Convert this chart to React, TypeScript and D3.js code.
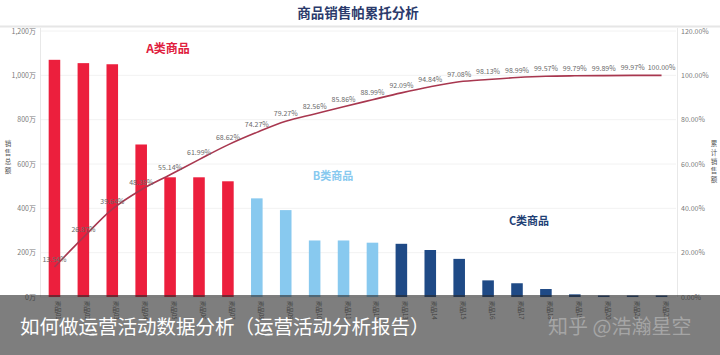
import React from "react";
import * as d3 from "d3";

const categories = [
  "商品01", "商品02", "商品03", "商品04", "商品05", "商品06", "商品07",
  "商品08", "商品09", "商品10", "商品11", "商品12",
  "商品13", "商品14", "商品15", "商品16", "商品17", "商品18",
  "商品19", "商品20", "商品21", "商品22",
];
const sales = [1070, 1055, 1050, 688, 540, 540, 522, 445, 392, 255, 255, 245, 240, 212, 172, 75, 62, 36, 12, 6, 5, 2];
const cumulative = [13.54, 26.87, 39.64, 48.38, 55.14, 61.99, 68.62, 74.27, 79.27, 82.56, 85.86, 88.99, 92.09, 94.84, 97.08, 98.13, 98.99, 99.57, 99.79, 99.89, 99.97, 100.0];
const groups = ["A", "A", "A", "A", "A", "A", "A", "B", "B", "B", "B", "B", "C", "C", "C", "C", "C", "C", "C", "C", "C", "C"];
const leftTicks = [0, 200, 400, 600, 800, 1000, 1200];
const rightTicks = [0, 20, 40, 60, 80, 100, 120];

const W = 720;
const H = 355;
const FONT = "'Noto Sans CJK SC', 'Noto Sans', sans-serif";
const colorOf: Record<string, string> = { A: "#ec1f3d", B: "#88c9ef", C: "#1f4a86" };

export default function App() {
  const x = d3.scaleBand<string>().domain(categories).range([40, 676]).paddingInner(0.6).paddingOuter(0.3);
  const yL = d3.scaleLinear().domain([0, 1200]).range([297, 31]);
  const yR = d3.scaleLinear().domain([0, 120]).range([297, 31]);
  const cx = (c: string) => (x(c) as number) + x.bandwidth() / 2;
  const line = d3
    .line<number>()
    .x((_, i) => cx(categories[i]))
    .y((d) => yR(d))
    .curve(d3.curveMonotoneX);
  const fmtL = (v: number) => d3.format(",")(v) + "万";
  const fmtR = (v: number) => v.toFixed(2) + "%";

  return (
    <svg width={W} height={H} style={{ position: "absolute", left: 0, top: 0, background: "#fff", fontFamily: FONT }}>
      <rect x={0} y={0} width={W} height={H} fill="#fff" />
      <text x={358} y={18} textAnchor="middle" fontSize={13.5} fontWeight={700} fill="#2b3a6b">
        商品销售帕累托分析
      </text>
      <line x1={0} x2={W} y1={26.5} y2={26.5} stroke="#e6e6e6" strokeWidth={2} />

      {/* gridlines */}
      {leftTicks.map((t) => (
        <line key={"g" + t} x1={40} x2={676} y1={yL(t)} y2={yL(t)} stroke="#f2f2f2" strokeWidth={1} />
      ))}
      <line x1={40.5} x2={40.5} y1={28} y2={297} stroke="#e8e8e8" />
      <line x1={677.5} x2={677.5} y1={28} y2={297} stroke="#e8e8e8" />

      {/* left ticks */}
      {leftTicks.map((t) => (
        <text key={"l" + t} x={36} y={yL(t) + 2.5} textAnchor="end" fontSize={7} fill="#7a7a7a">
          {fmtL(t)}
        </text>
      ))}
      {rightTicks.map((t) => (
        <text key={"r" + t} x={681} y={yR(t) + 2.5} textAnchor="start" fontSize={7} fill="#7a7a7a">
          {fmtR(t)}
        </text>
      ))}

      {/* axis titles stacked vertically */}
      {"销售总额".split("").map((ch, i) => (
        <text key={"lt" + i} x={8} y={146 + i * 9} textAnchor="middle" fontSize={6.5} fill="#555">
          {ch}
        </text>
      ))}
      {"累计销售额".split("").map((ch, i) => (
        <text key={"rt" + i} x={714} y={146 + i * 9} textAnchor="middle" fontSize={6.5} fill="#555">
          {ch}
        </text>
      ))}

      {/* bars */}
      {categories.map((c, i) => {
        const top = yL(sales[i]);
        const h = Math.max(297 - top, 1.5);
        return (
          <rect key={"b" + c} x={x(c)} y={297 - h} width={x.bandwidth()} height={h} fill={colorOf[groups[i]]} />
        );
      })}

      {/* category labels (rotated) */}
      {categories.map((c) => (
        <text
          key={"c" + c}
          transform={`translate(${cx(c) + 2},${301}) rotate(90)`}
          fontSize={6}
          fill="#666"
        >
          {c}
        </text>
      ))}

      {/* group annotations */}
      <text x={168} y={53} textAnchor="middle" fontSize={12} fontWeight={700} fill="#e0203e">
        A类商品
      </text>
      <text x={333} y={180} textAnchor="middle" fontSize={11} fontWeight={700} fill="#88c9ef">
        B类商品
      </text>
      <text x={529} y={225} textAnchor="middle" fontSize={11} fontWeight={700} fill="#1f3f75">
        C类商品
      </text>

      {/* cumulative line */}
      <path d={line(cumulative) || ""} fill="none" stroke="#a8374f" strokeWidth={1.6} />
      {cumulative.map((v, i) => (
        <text key={"p" + i} x={cx(categories[i])} y={yR(v) - 5} textAnchor="middle" fontSize={7} fill="#6a6a6a">
          {v.toFixed(2) + "%"}
        </text>
      ))}

      {/* overlay banner */}
      <rect x={0} y={295} width={W} height={60} fill="rgb(40,40,40)" fillOpacity={0.6} />
      <text x={20} y={334} fontSize={19.5} fill="#ffffff">
        如何做运营活动数据分析（运营活动分析报告）
      </text>
      <text x={548} y={334} fontSize={20} fill="#b0b0b0" fillOpacity={0.8}>
        知乎 @浩瀚星空
      </text>
    </svg>
  );
}
